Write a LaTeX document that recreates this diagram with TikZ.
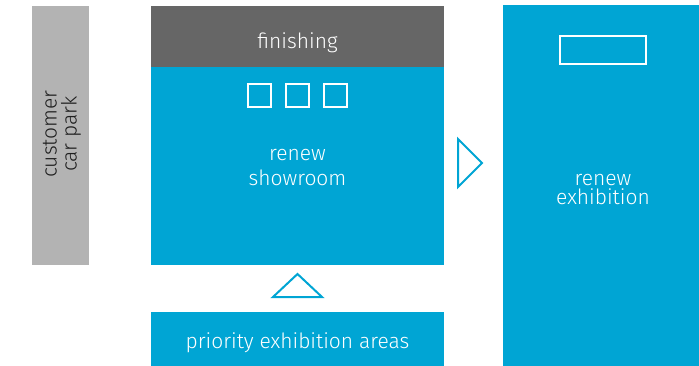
\documentclass[tikz,border=0pt]{standalone}
\usepackage{fontspec}
\setmainfont{Fira Sans Light}
\definecolor{brandblue}{RGB}{0,165,212}
\definecolor{darkgrey}{RGB}{102,102,102}
\definecolor{lightgrey}{RGB}{179,179,179}
\definecolor{textdark}{RGB}{30,30,30}
\begin{document}
\begin{tikzpicture}[x=1pt,y=-1pt,
  blockbox/.style={fill=brandblue,inner sep=0pt,outer sep=0pt,anchor=north west},
  lbl/.style={text=white,font=\fontsize{21}{24}\selectfont,align=center,inner sep=0pt},
  markbox/.style={draw=white,line width=1.4pt,inner sep=0pt,outer sep=0pt},
  tri/.style={draw=brandblue,line width=2pt,line join=miter}]
\useasboundingbox (0,0) rectangle (699,366);
% customer car park
\node[fill=lightgrey,anchor=north west,minimum width=57pt,minimum height=259pt,inner sep=0pt] (park) at (32,6) {};
\node[rotate=90,text=textdark,font=\fontsize{21}{20}\selectfont,align=center,inner sep=0pt] (parktxt) at (62,134) {customer\\car park};
% finishing
\node[fill=darkgrey,anchor=north west,minimum width=293pt,minimum height=61pt,inner sep=0pt] (finish) at (151,6) {};
\node[lbl] (finishtxt) at (297.5,42.5) {finishing};
% showroom
\node[blockbox,minimum width=293pt,minimum height=198pt] (show) at (151,67) {};
\node[lbl,font=\fontsize{21}{25}\selectfont] (showtxt) at (297.5,168) {renew\\showroom};
\node[markbox,minimum size=23pt] (sq1) at (259.5,95.5) {};
\node[markbox,minimum size=23pt] (sq2) at (297.5,95.5) {};
\node[markbox,minimum size=23pt] (sq3) at (335.5,95.5) {};
% priority
\node[blockbox,minimum width=293pt,minimum height=54pt] (prio) at (151,312) {};
\node[lbl] (priotxt) at (297.5,343) {priority exhibition areas};
% exhibition
\node[blockbox,minimum width=196pt,minimum height=361pt] (exhib) at (503,5) {};
\node[lbl,font=\fontsize{21}{19}\selectfont] (exhibtxt) at (603,190) {renew\\exhibition};
\node[markbox,minimum width=86pt,minimum height=28pt] (exrect) at (603,50) {};
% triangles
\draw[tri] (458,139) -- (482,163) -- (458,187) -- cycle;
\draw[tri] (273,297) -- (297.5,274) -- (322,297) -- cycle;
\end{tikzpicture}
\end{document}
